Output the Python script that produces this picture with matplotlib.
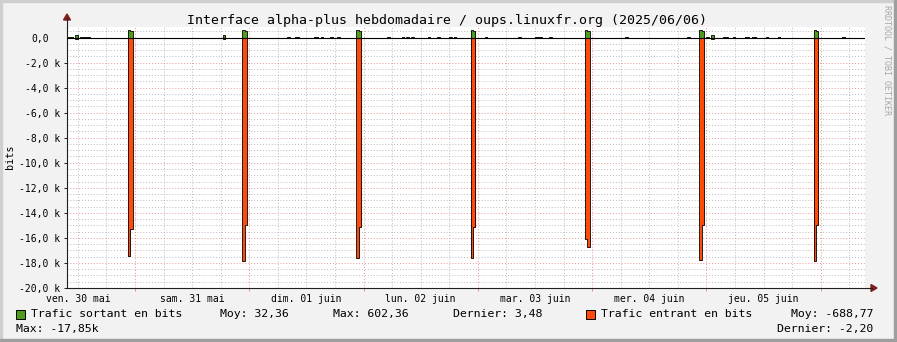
import matplotlib
matplotlib.use("Agg")
import matplotlib.pyplot as plt
import matplotlib.transforms as mtransforms
from matplotlib.patches import Rectangle, Polygon
from matplotlib.lines import Line2D
import numpy as np

# data (hours since 2025-05-30 00:00, 30 min steps, values in bits)
spike_hours = [22.5, 46.5, 70.5, 94.5, 118.5, 142.5, 166.5]
spike_in_first = [-17480, -17860, -17600, -17600, -16080, -17800, -17850]
spike_in_second = [-15290, -14960, -15140, -15140, -16760, -14990, -14990]
spike_out_first = [602, 602, 602, 602, 602, 602, 602]
spike_out_second = [500, 500, 500, 500, 500, 500, 500]

small_hours = [11.5, 42.5, 145.0]
small_out = [180, 180, 180]
small_in = [-120, -120, -120]

bump_hours = [10.0, 10.5, 12.5, 13.0, 13.5, 14.0, 56.0, 57.5, 58.0, 61.5, 62.0,
              63.0, 65.0, 66.5, 77.0, 80.0, 81.0, 82.0, 85.5, 87.5, 90.0, 91.0,
              97.5, 104.5, 108.0, 108.5, 109.0, 111.0, 127.0, 140.0, 144.0,
              147.5, 148.0, 149.5, 152.0, 152.5, 153.5, 154.0, 156.5, 159.0, 172.5]
bump_out = [70] * len(bump_hours)

day_labels = ["ven. 30 mai", "sam. 31 mai", "dim. 01 juin", "lun. 02 juin",
              "mar. 03 juin", "mer. 04 juin", "jeu. 05 juin"]
ytick_vals = [-20000, -18000, -16000, -14000, -12000, -10000, -8000, -6000, -4000, -2000]
ytick_labels = ["-20,0 k", "-18,0 k", "-16,0 k", "-14,0 k", "-12,0 k", "-10,0 k",
                "-8,0 k", "-6,0 k", "-4,0 k", "-2,0 k"]

GREEN = "#4F9C1A"
ORANGE = "#FF4A0A"
MONO = "DejaVu Sans Mono"
W, H = 897, 342

t = np.arange(9.5, 178.0, 0.5)
out_v = np.zeros_like(t)
in_v = np.zeros_like(t)
def idx(h):
    return int(round((h - t[0]) / 0.5))
for h, a, b, c, d in zip(spike_hours, spike_in_first, spike_in_second,
                         spike_out_first, spike_out_second):
    in_v[idx(h)] = a
    in_v[idx(h) + 1] = b
    out_v[idx(h)] = c
    out_v[idx(h) + 1] = d
for h, o, i in zip(small_hours, small_out, small_in):
    out_v[idx(h)] = o
    in_v[idx(h)] = i
for h, o in zip(bump_hours, bump_out):
    out_v[idx(h)] = o

def fx(px):
    return px / W
def fy(py):
    return 1 - py / H

fig = plt.figure(figsize=(W / 100, H / 100), dpi=100, facecolor="#F2F2F2")
ax = fig.add_axes([fx(67), fy(288), (865 - 67) / W, (288 - 27) / H])
ax.set_facecolor("white")
ax.set_xlim(9.72, 177.3)
ax.set_ylim(-20000, 840)

# grid
grid_c = (0.56, 0.56, 0.56, 0.6)
mgrid_c = (0.87, 0.31, 0.31, 0.6)
dots = (0, (1, 2))
for y in np.arange(-19500, 841, 500):
    if y % 2000 == 0:
        continue
    ax.axhline(y, color=grid_c, lw=0.7, ls=dots, zorder=0)
for y in ytick_vals:
    ax.axhline(y, color=mgrid_c, lw=0.7, ls=dots, zorder=0)
for x in np.arange(12, 178, 6):
    if x % 24 == 0:
        continue
    ax.axvline(x, color=grid_c, lw=0.7, ls=dots, zorder=0)
for x in np.arange(24, 178, 24):
    ax.axvline(x, color=mgrid_c, lw=0.7, ls=dots, zorder=0)

# areas
ax.fill_between(t, out_v, 0, step="post", color=GREEN, lw=0, zorder=2)
ax.fill_between(t, in_v, 0, step="post", color=ORANGE, lw=0, zorder=2)
ax.step(t, out_v, where="post", color="black", lw=0.6, zorder=3)
ax.step(t, in_v, where="post", color="black", lw=0.6, zorder=3)
ax.axhline(0, color="black", lw=0.8, zorder=3)

# axes styling
for s in ["top", "right"]:
    ax.spines[s].set_visible(False)
for s in ["left", "bottom"]:
    ax.spines[s].set_color("#1F1F1F")
    ax.spines[s].set_linewidth(0.8)

ax.set_yticks(ytick_vals, ytick_labels, family=MONO, fontsize=7.05)
ax.tick_params(axis="y", length=2.5, width=0.7, color="#1F1F1F", pad=2.5)
ax.set_xticks(np.arange(24, 178, 24), [""] * 7)
ax.tick_params(axis="x", which="major", length=2.5, width=0.7, color=mgrid_c)
ax.set_xticks(np.arange(12, 178, 24), day_labels, minor=True, family=MONO, fontsize=7.05)
ax.tick_params(axis="x", which="minor", length=0, pad=4)

blend = mtransforms.blended_transform_factory(fig.transFigure, ax.transData)
fig.text(fx(48.5), 0, "0,0", transform=blend, ha="right", va="center_baseline",
         family=MONO, fontsize=7.05)

# axis extensions and arrows
fig.add_artist(Line2D([fx(67), fx(67)], [fy(27), fy(18)], color="#1F1F1F", lw=0.8))
fig.add_artist(Line2D([fx(865), fx(872)], [fy(288), fy(288)], color="#1F1F1F", lw=0.8))
arrow_c = (0.5, 0.12, 0.12)
fig.add_artist(Polygon([[fx(63.5), fy(20)], [fx(70.5), fy(20)], [fx(67), fy(14)]],
                       closed=True, color=arrow_c, transform=fig.transFigure))
fig.add_artist(Polygon([[fx(871), fy(284.5)], [fx(871), fy(291.5)], [fx(877), fy(288)]],
                       closed=True, color=arrow_c, transform=fig.transFigure))

# border shading
fig.add_artist(Rectangle((0, fy(2)), 1, fy(0) - fy(2), color="#CFCFCF", transform=fig.transFigure))
fig.add_artist(Rectangle((0, 0), fx(2), 1, color="#CFCFCF", transform=fig.transFigure))
fig.add_artist(Rectangle((0, 0), 1, fy(339), color="#9E9E9E", transform=fig.transFigure))
fig.add_artist(Rectangle((fx(894), 0), fx(3), 1, color="#9E9E9E", transform=fig.transFigure))

# texts
fig.text(fx(447), fy(24), "Interface alpha-plus hebdomadaire / oups.linuxfr.org (2025/06/06)",
         ha="center", va="baseline", family=MONO, fontsize=9.57)
fig.text(fx(10.5), fy(157), "bits", rotation=90, ha="center", va="center",
         family=MONO, fontsize=7.3)
fig.text(fx(887), fy(5), "RRDTOOL / TOBI OETIKER", rotation=270, ha="center", va="top",
         family=MONO, fontsize=6, color="#A8A8A8")

leg = 8.25
b1, b2 = fy(317.3), fy(331.7)
fig.add_artist(Rectangle((fx(15.5), fy(319)), fx(9), fy(310) - fy(319), facecolor=GREEN,
                         edgecolor="black", lw=0.7, transform=fig.transFigure))
fig.add_artist(Rectangle((fx(585.5), fy(319)), fx(9), fy(310) - fy(319), facecolor=ORANGE,
                         edgecolor="black", lw=0.7, transform=fig.transFigure))
fig.text(fx(30.7), b1, "Trafic sortant en bits", va="baseline", family=MONO, fontsize=leg)
fig.text(fx(220), b1, "Moy: 32,36", va="baseline", family=MONO, fontsize=leg)
fig.text(fx(332.7), b1, "Max: 602,36", va="baseline", family=MONO, fontsize=leg)
fig.text(fx(452.7), b1, "Dernier: 3,48", va="baseline", family=MONO, fontsize=leg)
fig.text(fx(600.7), b1, "Trafic entrant en bits", va="baseline", family=MONO, fontsize=leg)
fig.text(fx(873.5), b1, "Moy: -688,77", ha="right", va="baseline", family=MONO, fontsize=leg)
fig.text(fx(15.7), b2, "Max: -17,85k", va="baseline", family=MONO, fontsize=leg)
fig.text(fx(873.5), b2, "Dernier: -2,20", ha="right", va="baseline", family=MONO, fontsize=leg)

fig.savefig("out.png", dpi=100, facecolor=fig.get_facecolor())
plt.close(fig)
